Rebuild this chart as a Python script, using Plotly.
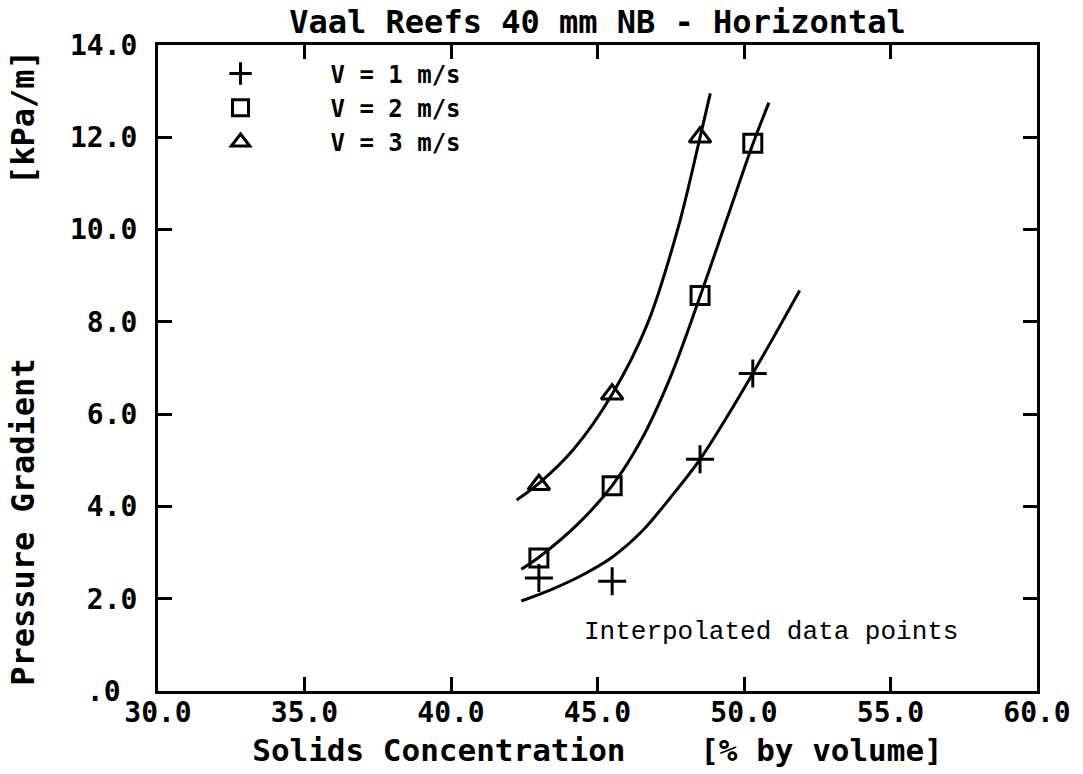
import plotly.graph_objects as go

# ---- data ----
conc_pts = [43.0, 45.5, 48.5, 50.3]
v1_pts = [2.45, 2.38, 5.02, 6.88]
v2_pts = [2.88, 4.45, 8.57, 11.87]
conc_pts_v3 = [43.0, 45.5, 48.5]
v3_pts = [4.47, 6.43, 12.0]

# fitted curves
v1_curve_x = [42.4, 43.5, 44.5, 45.5, 46.5, 47.5, 48.5, 49.4, 50.3, 51.1, 51.9]
v1_curve_y = [1.95, 2.22, 2.52, 2.9, 3.45, 4.2, 5.02, 5.92, 6.88, 7.77, 8.68]
v2_curve_x = [42.4, 43.0, 44.3, 45.5, 46.5, 47.5, 48.5, 49.4, 50.3, 50.85]
v2_curve_y = [2.64, 2.9, 3.6, 4.45, 5.45, 6.82, 8.55, 10.2, 11.85, 12.75]
v3_curve_x = [42.24, 43.0, 44.2, 45.5, 46.7, 47.76, 48.5, 48.85]
v3_curve_y = [4.14, 4.5, 5.25, 6.43, 7.95, 10.06, 12.0, 12.95]

x_ticks = [30, 35, 40, 45, 50, 55, 60]
x_ticktext = ["30.0", "35.0", "40.0", "45.0", "50.0", "55.0", "60.0"]
y_ticks = [0, 2, 4, 6, 8, 10, 12, 14]
y_ticktext = [".0\u00a0", "2.0", "4.0", "6.0", "8.0", "10.0", "12.0", "14.0"]

MONO = "DejaVu Sans Mono"
NB = "\u00a0"
fig = go.Figure()

for cx, cy in [(v1_curve_x, v1_curve_y), (v2_curve_x, v2_curve_y), (v3_curve_x, v3_curve_y)]:
    fig.add_trace(go.Scatter(x=cx, y=cy, mode="lines", showlegend=False,
                             line=dict(color="black", width=3, shape="spline", smoothing=1.0),
                             hoverinfo="skip"))

fig.add_trace(go.Scatter(x=conc_pts, y=v1_pts, mode="markers", name="V = 1 m/s",
                         marker=dict(symbol="cross-thin", size=20, color="black",
                                     line=dict(color="black", width=3))))
fig.add_trace(go.Scatter(x=conc_pts, y=v2_pts, mode="markers", name="V = 2 m/s",
                         marker=dict(symbol="square-open", size=18, color="black",
                                     line=dict(color="black", width=3))))
fig.add_trace(go.Scatter(x=conc_pts_v3, y=v3_pts, mode="markers", name="V = 3 m/s",
                         marker=dict(symbol="triangle-up-open", size=19, color="black",
                                     line=dict(color="black", width=3))))

fig.add_annotation(x=44.47, y=1.28, xref="x", yref="y", text="Interpolated data points",
                   showarrow=False, xanchor="left", yanchor="middle",
                   font=dict(family="Liberation Mono", size=26, color="black"))

axis_common = dict(showline=True, linecolor="black", linewidth=3, mirror="ticks",
                   ticks="inside", tickcolor="black", tickwidth=2.5, ticklen=14,
                   showgrid=False, zeroline=False,
                   tickfont=dict(family=MONO, size=28, color="black", weight="bold"))

fig.update_layout(
    width=1083, height=774,
    margin=dict(l=157.5, r=43.5, t=44.5, b=79.5),
    paper_bgcolor="white", plot_bgcolor="white",
    title=dict(text="Vaal Reefs 40 mm NB - Horizontal", x=0.5, xref="paper",
               y=1 - 22 / 774, yref="container", xanchor="center", yanchor="middle",
               font=dict(family=MONO, size=32, color="black", weight="bold")),
    xaxis=dict(range=[30, 60], tickvals=x_ticks, ticktext=x_ticktext,
               ticklabelstandoff=-6,
               title=dict(text="Solids Concentration" + NB * 4 + "[% by volume]",
                          standoff=12,
                          font=dict(family=MONO, size=31, color="black", weight="bold")),
               **axis_common),
    yaxis=dict(range=[0, 14], tickvals=y_ticks, ticktext=y_ticktext,
               ticklabelstandoff=12,
               title=dict(text="Pressure Gradient" + NB * 9 + "[kPa/m]",
                          standoff=26,
                          font=dict(family=MONO, size=32, color="black", weight="bold")),
               **axis_common),
    legend=dict(x=-0.0085, y=0.99, xanchor="left", yanchor="top",
                bgcolor="rgba(0,0,0,0)", borderwidth=0, itemwidth=170,
                font=dict(family=MONO, size=24, color="black", weight="bold")),
    showlegend=True,
)

fig.write_html("out.html", config={"displayModeBar": False},
               post_script="document.body.style.margin='0px';")
